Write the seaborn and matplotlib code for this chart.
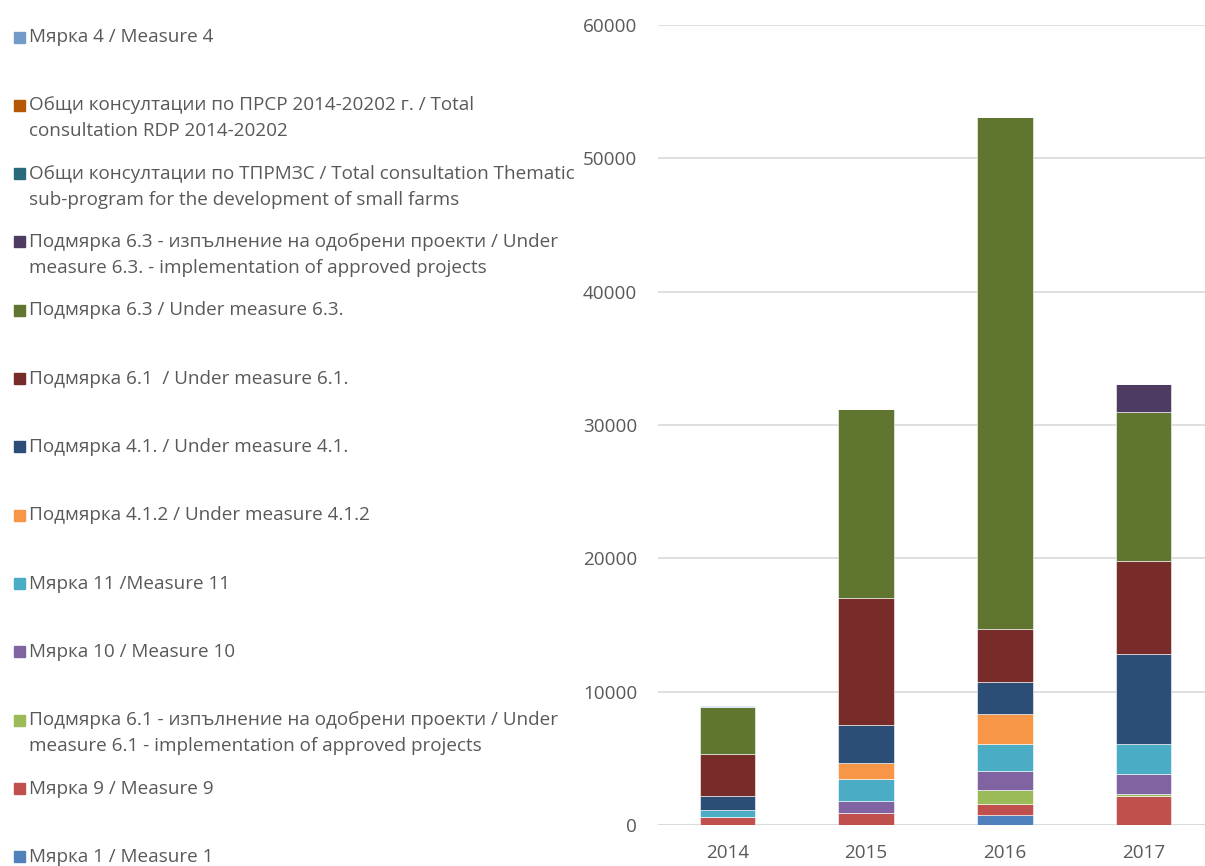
import matplotlib
matplotlib.use("Agg")
import matplotlib.pyplot as plt
import numpy as np
import pandas as pd
import seaborn as sns
from matplotlib.patches import Rectangle

# ── Data (stack order, bottom to top) ─────────────────────────────────────
years = ["2014", "2015", "2016", "2017"]

labels = [
    "Мярка 1 / Measure 1",
    "Мярка 9 / Measure 9",
    "Подмярка 6.1 - изпълнение на одобрени проекти / Under\nmeasure 6.1 - implementation of approved projects",
    "Мярка 10 / Measure 10",
    "Мярка 11 /Measure 11",
    "Подмярка 4.1.2 / Under measure 4.1.2",
    "Подмярка 4.1. / Under measure 4.1.",
    "Подмярка 6.1  / Under measure 6.1.",
    "Подмярка 6.3 / Under measure 6.3.",
    "Подмярка 6.3 - изпълнение на одобрени проекти / Under\nmeasure 6.3. - implementation of approved projects",
    "Общи консултации по ТПРМЗС / Total consultation Thematic\nsub-program for the development of small farms",
    "Общи консултации по ПРСР 2014-20202 г. / Total\nconsultation RDP 2014-20202",
    "Мярка 4 / Measure 4",
]

m1 = [0, 0, 750, 0]
m9 = [625, 925, 850, 2175]
sub61_impl = [0, 0, 1025, 125]
m10 = [0, 900, 1400, 1550]
m11 = [525, 1600, 2050, 2225]
sub412 = [0, 1225, 2225, 0]
sub41 = [1000, 2825, 2425, 6775]
sub61 = [3200, 9550, 3975, 6975]
sub63 = [3525, 14150, 38400, 11150]
sub63_impl = [0, 0, 0, 2100]
tprmzs = [0, 0, 0, 0]
rdp = [0, 0, 0, 0]
m4 = [75, 0, 0, 0]

series = [m1, m9, sub61_impl, m10, m11, sub412, sub41, sub61, sub63,
          sub63_impl, tprmzs, rdp, m4]

colors = ["#4F81BD", "#C0504D", "#9BBB59", "#8064A2", "#4BACC6", "#F79646",
          "#2C4D75", "#772C2A", "#5F7530", "#4D3B62", "#276A7C", "#B65708",
          "#729ACA"]

# ── Figure ────────────────────────────────────────────────────────────────
sns.set_style("white")
plt.rcParams["font.family"] = ["Open Sans", "DejaVu Sans"]
text_color = "#595959"
fs = 13.6

W, H = 1205, 866
fig = plt.figure(figsize=(W / 100, H / 100), dpi=100)
ax = fig.add_axes([658 / W, 1 - 825 / H, 555 / W, 800 / H])

bottom = np.zeros(len(years))
for vals, col in zip(series, colors):
    sns.barplot(x=years, y=vals, bottom=bottom, color=col, saturation=1,
                width=0.4, errorbar=None, edgecolor="white", linewidth=0.4,
                ax=ax)
    bottom = bottom + np.array(vals)

ax.set_xlim(-0.5, 3.5)
ax.set_ylim(0, 60000)
ax.set_yticks(np.arange(0, 60001, 10000))
ax.yaxis.grid(True, color="#D9D9D9", linewidth=1.2)
ax.set_axisbelow(True)
sns.despine(ax=ax, left=True, right=True, top=True, bottom=True)
ax.axhline(0, color="#D9D9D9", linewidth=1.2, zorder=0)
ax.tick_params(axis="both", length=0, labelsize=fs, colors=text_color)
ax.tick_params(axis="y", pad=15)
ax.tick_params(axis="x", pad=14)
ax.set_xlabel("")
ax.set_ylabel("")

# ── Legend (Excel-like, evenly spaced entries) ───────────────────────────
top_y, step, line_h = 37, 68.33, 26
for i, (lab, col) in enumerate(zip(labels[::-1], colors[::-1])):
    yc = top_y + i * step
    fig.patches.append(Rectangle((14 / W, 1 - (yc + 5.5) / H), 11 / W, 11 / H,
                                 transform=fig.transFigure, color=col))
    for j, line in enumerate(lab.split("\n")):
        fig.text(29 / W, 1 - (yc + j * line_h) / H, line, ha="left",
                 va="center", fontsize=fs, color=text_color)

plt.savefig("out.png", dpi=100)
plt.close()
